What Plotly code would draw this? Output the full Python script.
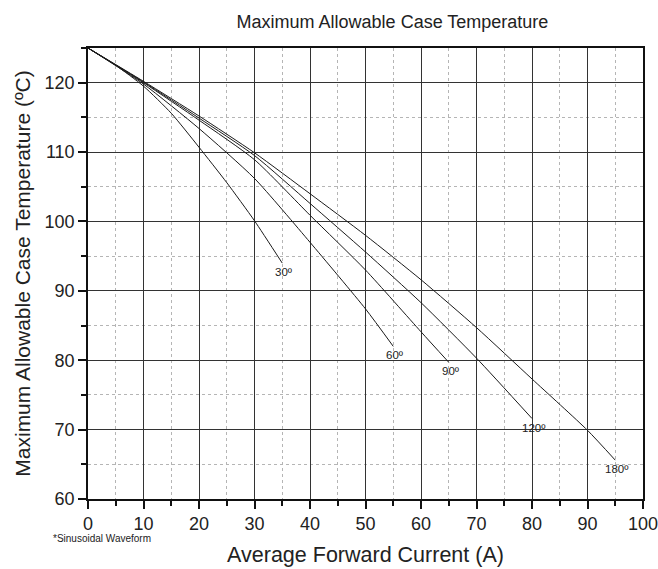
import plotly.graph_objects as go

# Data
labels = ["30º", "60º", "90º", "120º", "180º"]
x30 = [0, 5, 10, 15, 20, 25, 30, 35]
y30 = [125, 122.5, 119.5, 115.6, 110.7, 105.6, 100.1, 94.0]
x60 = [0, 10, 20, 30, 40, 50, 55]
y60 = [125, 119.8, 113.4, 106.2, 97.0, 87.4, 82.0]
x90 = [0, 10, 20, 30, 40, 50, 60, 65]
y90 = [125, 120.0, 114.6, 108.9, 100.9, 93.0, 84.1, 79.7]
x120 = [0, 10, 20, 30, 40, 50, 60, 70, 80]
y120 = [125, 120.1, 114.9, 109.5, 102.6, 95.6, 88.3, 80.3, 71.6]
x180 = [0, 10, 20, 30, 40, 50, 60, 70, 80, 90, 95]
y180 = [125, 120.2, 115.2, 109.9, 104.0, 98.0, 91.6, 84.7, 77.3, 69.9, 65.6]

xticks = [0, 10, 20, 30, 40, 50, 60, 70, 80, 90, 100]
yticks = [60, 70, 80, 90, 100, 110, 120]

series = [(x30, y30), (x60, y60), (x90, y90), (x120, y120), (x180, y180)]

FONT = "Liberation Sans, Arial, sans-serif"
fig = go.Figure()
for (xs, ys), lab in zip(series, labels):
    fig.add_trace(go.Scatter(x=xs, y=ys, mode="lines", name=lab,
                             line=dict(color="#1a1a1a", width=1, shape="spline", smoothing=0.6),
                             showlegend=False, hoverinfo="skip"))
    fig.add_annotation(x=xs[-1] + 0.4, y=ys[-1], text=lab, showarrow=False,
                       xanchor="center", yanchor="top", yshift=-1,
                       font=dict(family=FONT, size=11.5, color="#222"))

fig.add_annotation(x=0, y=0, xref="paper", yref="paper", text="*Sinusoidal Waveform",
                   showarrow=False, xanchor="left", yanchor="top", yshift=-32, xshift=-37,
                   font=dict(family=FONT, size=10, color="#222"))

axis_common = dict(
    showline=True, linecolor="#111", linewidth=1.5, mirror=True,
    ticks="outside", ticklen=8, tickwidth=1.5, tickcolor="#111",
    showgrid=True, gridcolor="#333", gridwidth=1.2,
    zeroline=False, automargin=False,
    tickfont=dict(family=FONT, size=18, color="#222"),
)

fig.update_xaxes(range=[0, 100], tickvals=xticks, ticklabeloverflow="allow",
                 title=dict(text="Average Forward Current (A)", standoff=14,
                            font=dict(family=FONT, size=21.5, color="#222")),
                 minor=dict(dtick=5, tick0=0, ticks="outside", ticklen=5, tickcolor="#111",
                            showgrid=True, gridcolor="#b5b5b5", griddash="dot", gridwidth=1),
                 **axis_common)
fig.update_yaxes(range=[60, 125], tickvals=yticks,
                 title=dict(text="Maximum Allowable Case Temperature (ºC)", standoff=8,
                            font=dict(family=FONT, size=21, color="#222")),
                 minor=dict(dtick=5, tick0=60, ticks="outside", ticklen=5, tickcolor="#111",
                            showgrid=True, gridcolor="#b5b5b5", griddash="dot", gridwidth=1),
                 **axis_common)

fig.update_layout(
    width=658, height=569,
    margin=dict(l=88, r=15, t=48, b=70),
    paper_bgcolor="white", plot_bgcolor="white",
    title=dict(text="Maximum Allowable Case Temperature", x=0.5965, xanchor="center",
               y=0.962, yanchor="middle",
               font=dict(family=FONT, size=18, color="#222")),
)

fig.write_html("out.html", config={"displayModeBar": False},
               post_script="document.body.style.margin='0px';document.body.style.overflow='hidden';")
